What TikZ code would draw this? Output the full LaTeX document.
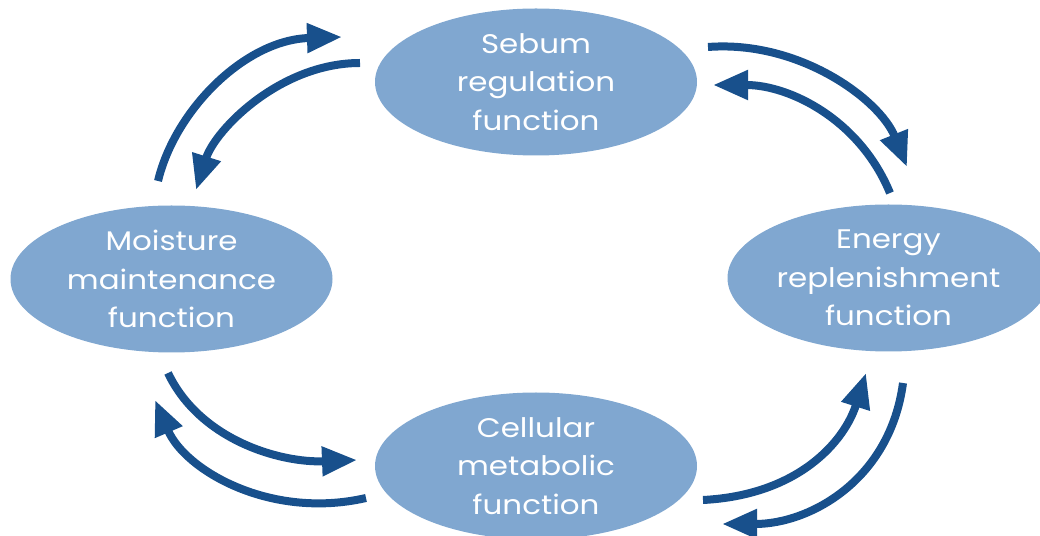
\documentclass[tikz,border=0pt]{standalone}
\usepackage{fontspec}
\setmainfont{Poppins}[FakeStretch=1.15]
\usetikzlibrary{arrows.meta,shapes.geometric}
\definecolor{ellfill}{RGB}{128,167,208}
\definecolor{arrowblue}{RGB}{24,80,140}
\begin{document}
\begin{tikzpicture}[>={Triangle[length=35bp,width=28bp]},line join=bevel,
  func/.style={ellipse,fill=ellfill,draw=none,inner sep=0pt,minimum width=322bp,minimum height=147bp,
    text=white,align=center,font=\fontsize{27}{38.5}\selectfont},
  cyc/.style={arrowblue,line width=8bp,->}]
%%
\clip (0bp,0bp) rectangle (1040bp,536bp);
\node (node_0) at (536bp,454bp) [func] {Sebum\\regulation\\function};
  \node (node_1) at (171.5bp,257bp) [func] {Moisture\\maintenance\\function};
  \node (node_2) at (888.5bp,258bp) [func] {Energy\\replenishment\\function};
  \node (node_3) at (536bp,70bp) [func] {Cellular\\metabolic\\function};
%
  \coordinate (p_0) at (158bp,355bp);  \coordinate (p_1) at (342bp,499bp);
  \coordinate (p_2) at (360bp,473bp);  \coordinate (p_3) at (196bp,346bp);
  \coordinate (p_4) at (708bp,489bp);  \coordinate (p_5) at (907bp,369bp);
  \coordinate (p_6) at (890bp,343bp);  \coordinate (p_7) at (713bp,451bp);
  \coordinate (p_8) at (168bp,163bp);  \coordinate (p_9) at (357bp,76bp);
  \coordinate (p_10) at (366bp,38bp);  \coordinate (p_11) at (155bp,136bp);
  \coordinate (p_12) at (703bp,36bp);  \coordinate (p_13) at (866bp,163bp);
  \coordinate (p_14) at (903bp,153bp); \coordinate (p_15) at (722bp,12bp);
%
  \draw [cyc] (p_0) ..controls (175bp,426bp) and (245bp,496bp)  .. (p_1);
  \draw [cyc] (p_2) ..controls (280bp,473bp) and (215bp,406bp)  .. (p_3);
  \draw [cyc] (p_4) ..controls (800bp,496bp) and (880bp,436bp)  .. (p_5);
  \draw [cyc] (p_6) ..controls (860bp,416bp) and (790bp,451bp)  .. (p_7);
  \draw [cyc] (p_8) ..controls (200bp,96bp) and (280bp,73bp)  .. (p_9);
  \draw [cyc] (p_10) ..controls (270bp,16bp) and (185bp,66bp)  .. (p_11);
  \draw [cyc] (p_12) ..controls (800bp,41bp) and (845bp,96bp)  .. (p_13);
  \draw [cyc] (p_14) ..controls (890bp,56bp) and (810bp,12bp)  .. (p_15);
%
\end{tikzpicture}
\end{document}
